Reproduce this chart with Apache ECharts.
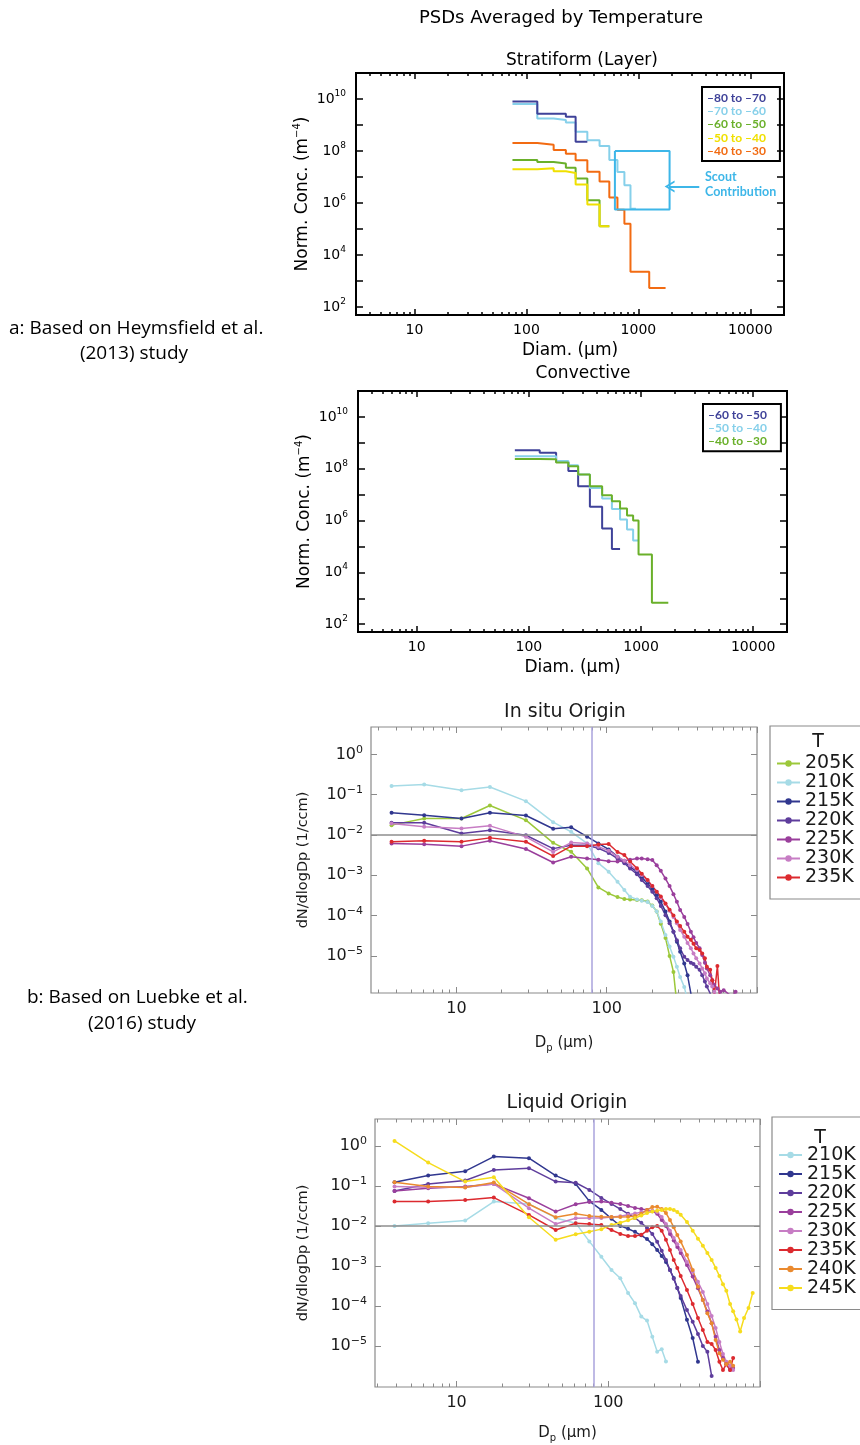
<!DOCTYPE html>
<html><head><meta charset="utf-8">
<script src="https://cdn.jsdelivr.net/npm/echarts@6/dist/echarts.min.js"></script>
<style>html,body{margin:0;padding:0;background:#fff}#c{width:860px;height:1445px}</style>
</head><body><div id="c"></div>
<script>
// ================= DATA =================
// a) Heymsfield et al. (2013) — Stratiform (Layer): bin edges (µm) and normalized concentration (m^-4)
const strat8070Edges = [75, 125, 175, 225, 275, 350];
const strat8070Conc  = [8.1e9, 2.7e9, 2.7e9, 2.1e9, 2.3e8];
const strat7060Edges = [75, 125, 175, 225, 275, 350, 450, 550, 650, 750, 850, 950];
const strat7060Conc  = [6.4e9, 1.8e9, 1.55e9, 1.26e9, 5.5e8, 2.6e8, 1.58e8, 4.5e7, 1.56e7, 4.8e6, 6.0e5];
const strat6050Edges = [75, 125, 175, 225, 275, 350, 450, 550];
const strat6050Conc  = [4.55e7, 3.8e7, 3.3e7, 2.3e7, 8.9e6, 1.3e6, 1.3e5];
const strat5040Edges = [75, 125, 175, 225, 275, 350, 450, 550];
const strat5040Conc  = [1.98e7, 2.17e7, 1.66e7, 1.43e7, 5.2e6, 8.8e5, 1.3e5];
const strat4030Edges = [75, 125, 175, 225, 275, 350, 450, 550, 650, 750, 850, 1250, 1750];
const strat4030Conc  = [2.06e8, 1.73e8, 1.1e8, 7.8e7, 4.4e7, 1.6e7, 6.8e6, 1.65e6, 5.5e5, 1.6e5, 2.3e3, 5.5e2];
const stratNames = ['–80 to –70', '–70 to –60', '–60 to –50', '–50 to –40', '–40 to –30'];
// Scout contribution box and arrow (diameter µm, concentration m^-4)
const scoutBoxDiam = [617, 1900];
const scoutBoxConc = [5.7e5, 1.0e8];
const scoutArrowDiam = [3500, 1900];
const scoutArrowConc = 4.3e6;

// a) Convective
const conv6050Edges = [75, 125, 175, 225, 275, 350, 450, 550, 650];
const conv6050Conc  = [5.2e8, 4.1e8, 1.8e8, 8.2e7, 2.1e7, 3.4e6, 4.9e5, 8.0e4];
const conv5040Edges = [75, 125, 175, 225, 275, 350, 450, 550, 650, 750, 850, 950];
const conv5040Conc  = [3.0e8, 3.0e8, 2.0e8, 1.36e8, 6.0e7, 1.8e7, 7.1e6, 2.8e6, 1.1e6, 4.5e5, 1.7e5];
const conv4030Edges = [75, 125, 175, 225, 275, 350, 450, 550, 650, 750, 850, 950, 1250, 1750];
const conv4030Conc  = [2.4e8, 2.3e8, 1.75e8, 1.26e8, 6.0e7, 2.1e7, 9.5e6, 5.6e6, 2.9e6, 1.55e6, 1.0e6, 4.9e4, 6.8e2];
const convNames = ['–60 to –50', '–50 to –40', '–40 to –30'];

// b) Luebke et al. (2016) — In situ origin: Dp (µm) and dN/dlogDp (1/ccm)
const insituDp = [3.7, 6.1, 10.8, 16.7, 29, 44, 58, 74, 88, 103, 118, 131, 143, 159, 171, 187, 201, 215, 229, 246, 262, 278, 293, 308, 328, 345, 363, 378, 394, 415, 432, 450, 464, 488, 504, 520, 545, 570, 600, 640, 680, 720, 780];
const insitu205 = [1.76e-2, 2.58e-2, 2.58e-2, 5.4e-2, 2.34e-2, 6.4e-3, 3.85e-3, 1.48e-3, 5.0e-4, 3.55e-4, 2.88e-4, 2.57e-4, 2.51e-4, 2.45e-4, 2.4e-4, 2.24e-4, 1.78e-4, 1.26e-4, 6.3e-5, 2.8e-5, 1.0e-5, 4.0e-6, 6.3e-7];
const insitu210 = [0.164, 0.18, 0.13, 0.155, 0.0693, 0.0209, 0.012, 6.2e-3, 2.0e-3, 1.23e-3, 6.9e-4, 4.3e-4, 2.95e-4, 2.51e-4, 2.34e-4, 2.19e-4, 1.74e-4, 1.26e-4, 7.1e-5, 3.3e-5, 1.7e-5, 9.5e-6, 5.4e-6, 3.0e-6, 1.7e-6, 7.9e-7];
const insitu215 = [0.0356, 0.0311, 0.0258, 0.0356, 0.0305, 0.0143, 0.0155, 9.1e-3, 6.2e-3, 4.4e-3, 2.9e-3, 2.2e-3, 1.62e-3, 1.23e-3, 8.9e-4, 6.3e-4, 4.7e-4, 3.2e-4, 2.2e-4, 1.26e-4, 7.1e-5, 4.0e-5, 2.24e-5, 1.26e-5, 6.5e-6, 3.3e-6, 1.17e-6, 5e-7];
const insitu220 = [0.0201, 0.0201, 0.0109, 0.0132, 9.9e-3, 4.6e-3, 5.6e-3, 5.6e-3, 4.7e-3, 3.6e-3, 2.6e-3, 2.0e-3, 1.48e-3, 1.07e-3, 7.6e-4, 5.4e-4, 3.9e-4, 2.7e-4, 1.74e-4, 1.02e-4, 6.5e-5, 4.0e-5, 2.45e-5, 1.55e-5, 9.5e-6, 7.9e-6, 6.8e-6, 6.3e-6, 5.4e-6, 4.5e-6, 3.3e-6, 2.3e-6, 1.74e-6, 1.17e-6, 5e-7];
const insitu225 = [6.2e-3, 5.9e-3, 5.3e-3, 7.2e-3, 4.5e-3, 2.08e-3, 2.9e-3, 2.6e-3, 2.45e-3, 2.24e-3, 2.19e-3, 2.29e-3, 2.45e-3, 2.6e-3, 2.6e-3, 2.5e-3, 2.4e-3, 1.78e-3, 1.29e-3, 8.3e-4, 5.4e-4, 3.4e-4, 2.2e-4, 1.38e-4, 9.3e-5, 6.2e-5, 4.0e-5, 2.9e-5, 2.1e-5, 1.55e-5, 1.05e-5, 6.8e-6, 4.9e-6, 3.3e-6, 2.5e-6, 1.9e-6, 1.55e-6, 1.29e-6, 1.41e-6, 1.17e-6, 1.0e-6, 1.29e-6];
const insitu230 = [0.0193, 0.016, 0.0145, 0.0169, 9.0e-3, 3.8e-3, 6.5e-3, 6.2e-3, 5.1e-3, 4.1e-3, 2.9e-3, 2.3e-3, 1.78e-3, 1.35e-3, 1.02e-3, 7.4e-4, 5.4e-4, 3.9e-4, 2.8e-4, 1.95e-4, 1.32e-4, 9.3e-5, 6.5e-5, 4.4e-5, 3.0e-5, 2.1e-5, 1.55e-5, 1.15e-5, 8.7e-6, 6.5e-6, 4.9e-6, 3.7e-6, 2.75e-6, 2.1e-6, 1.74e-6, 1.29e-6, 7.9e-7];
const insitu235 = [6.8e-3, 7.2e-3, 6.8e-3, 8.5e-3, 6.8e-3, 3.0e-3, 5.3e-3, 5.3e-3, 5.8e-3, 6.0e-3, 3.8e-3, 3.2e-3, 2.2e-3, 1.5e-3, 1.1e-3, 7.6e-4, 5.4e-4, 3.9e-4, 3.0e-4, 2.0e-4, 1.4e-4, 1.0e-4, 7.1e-5, 5.5e-5, 4.0e-5, 3.0e-5, 2.5e-5, 2.0e-5, 1.55e-5, 1.4e-5, 1.15e-5, 8.7e-6, 5.4e-6, 4.5e-6, 2.5e-6, 1.1e-6, 5.6e-6, 5e-7];
const insituNames = ['205K', '210K', '215K', '220K', '225K', '230K', '235K'];

// b) Liquid origin
const liquidDp = [3.9, 6.5, 11.4, 17.6, 30, 45, 61, 75, 90, 105, 120, 135, 150, 165, 180, 195, 210, 225, 240, 255, 270, 285, 300, 330, 360, 390, 420, 450, 480, 510, 540, 570, 600, 635, 665, 700, 740, 785, 840, 895];
const liquid210 = [0.0100, 0.0117, 0.0136, 0.0406, 0.0355, 0.0158, 0.0117, 4.1e-3, 1.7e-3, 7.9e-4, 4.9e-4, 2.1e-4, 1.17e-4, 5.4e-5, 4.3e-5, 1.7e-5, 7.2e-6, 8.3e-6, 4.1e-6];
const liquid215 = [0.124, 0.181, 0.233, 0.541, 0.492, 0.181, 0.112, 0.0417, 0.0251, 0.0151, 0.0100, 8.5e-3, 7.1e-3, 5.8e-3, 4.7e-3, 3.5e-3, 2.5e-3, 1.78e-3, 1.26e-3, 7.9e-4, 5.0e-4, 2.8e-4, 1.58e-4, 4.5e-5, 1.58e-5, 4.0e-6];
const liquid220 = [0.075, 0.112, 0.136, 0.251, 0.277, 0.128, 0.120, 0.0794, 0.0501, 0.0355, 0.0263, 0.0200, 0.0158, 0.0120, 8.9e-3, 6.3e-3, 4.0e-3, 2.4e-3, 1.41e-3, 7.9e-4, 4.8e-4, 2.8e-4, 1.78e-4, 7.9e-5, 4.0e-5, 2.0e-5, 1.0e-5, 7.1e-6, 1.78e-6];
const liquid225 = [0.075, 0.0875, 0.0962, 0.112, 0.0492, 0.0228, 0.0348, 0.0398, 0.0407, 0.038, 0.0355, 0.0316, 0.0282, 0.0263, 0.0251, 0.0234, 0.0200, 0.0141, 0.0100, 6.3e-3, 4.3e-3, 2.95e-3, 2.1e-3, 1.05e-3, 5.4e-4, 2.75e-4, 1.41e-4, 7.2e-5, 3.7e-5, 1.7e-5, 7.9e-6, 5.0e-6, 3.5e-6, 2.5e-6, 2.8e-6];
const liquid230 = [0.0962, 0.0927, 0.0927, 0.112, 0.0277, 0.0112, 0.0156, 0.0158, 0.0158, 0.0166, 0.0174, 0.0191, 0.0204, 0.0219, 0.0234, 0.024, 0.0219, 0.0166, 0.0112, 7.6e-3, 5.0e-3, 3.5e-3, 2.5e-3, 1.26e-3, 7.1e-4, 4.0e-4, 2.24e-4, 1.12e-4, 5.6e-5, 2.8e-5, 1.26e-5, 6.3e-6, 4.0e-6, 3.2e-6, 2.5e-6];
const liquid235 = [0.0406, 0.0406, 0.0447, 0.051, 0.0188, 7.9e-3, 0.0117, 0.0112, 0.0105, 7.9e-3, 6.3e-3, 5.6e-3, 5.6e-3, 6.0e-3, 7.6e-3, 9.3e-3, 0.0100, 7.6e-3, 4.5e-3, 2.5e-3, 1.41e-3, 8.9e-4, 5.6e-4, 2.5e-4, 1.12e-4, 5.0e-5, 2.5e-5, 1.26e-5, 1.12e-5, 7.9e-6, 4.0e-6, 2.5e-6, 3.5e-6, 2.5e-6, 5.0e-6];
const liquid240 = [0.124, 0.0962, 0.0908, 0.121, 0.0348, 0.0165, 0.02, 0.0178, 0.017, 0.0166, 0.0166, 0.017, 0.0178, 0.02, 0.0251, 0.0295, 0.0302, 0.0263, 0.0209, 0.0141, 9.3e-3, 5.9e-3, 4.1e-3, 1.86e-3, 7.9e-4, 3.0e-4, 1.41e-4, 6.6e-5, 3.7e-5, 1.41e-5, 6.6e-6, 4.5e-6, 3.5e-6, 4.0e-6, 3.2e-6];
const liquid245 = [1.33, 0.383, 0.128, 0.165, 0.0165, 4.5e-3, 6.2e-3, 7.1e-3, 8.3e-3, 0.0105, 0.012, 0.0138, 0.0158, 0.0182, 0.0209, 0.0229, 0.024, 0.0251, 0.0263, 0.0263, 0.0251, 0.0224, 0.0191, 0.0126, 7.6e-3, 4.8e-3, 3.2e-3, 2.1e-3, 1.41e-3, 8.9e-4, 5.6e-4, 3.5e-4, 2.4e-4, 1.12e-4, 7.4e-5, 4.6e-5, 2.3e-5, 5.0e-5, 8.9e-5, 2.1e-4];
const liquidNames = ['210K', '215K', '220K', '225K', '230K', '235K', '240K', '245K'];

// reference lines in panel b
const refConc = 0.01;
const refDiam = 80;

// tick values
const idlMajorX = [10, 100, 1000, 10000];
const idlDecadesY = [1e2, 1e3, 1e4, 1e5, 1e6, 1e7, 1e8, 1e9, 1e10];
const idlLabelsY = [1e2, 1e4, 1e6, 1e8, 1e10];
const mmMajorX = [10, 100, 1000];
const mmLabelsX = [10, 100];
const mmDecadesY = [1, 1e-1, 1e-2, 1e-3, 1e-4, 1e-5];

// ================= STYLE =================
const IDL = 'DejaVu Sans';
const MM = 'DejaVu Sans';
const C = {
  dblue: '#3f4299', lblue: '#86d0ea', green: '#6ab02a', yellow: '#f0e000', orange: '#f26b12', scout: '#3db6e8',
  k205: '#9cc83a', k210: '#a6dbe6', k215: '#30378f', k220: '#5e3d9c', k225: '#9a3f9c', k230: '#c77dc4',
  k235: '#dc2a2f', k240: '#ea8a2f', k245: '#f6dc1d'
};

function minorsBetween(lo, hi) {
  const out = [];
  for (let d = 1; d <= 1e5; d *= 10) for (let m = 2; m <= 9; m++) { const v = m * d; if (v > lo && v < hi) out.push(v); }
  return out;
}
function expLabel(v) {
  const e = Math.round(Math.log10(v));
  return '{b|10}{s|' + (e < 0 ? '−' + (-e) : String(e)) + '}';
}
function stepData(edges, conc) {
  const d = conc.map((v, i) => [edges[i], v]);
  d.push([edges[conc.length], conc[conc.length - 1]]);
  return d;
}
function pairs(xs, ys) {
  const d = [];
  ys.forEach((y, i) => { if (y != null) d.push([xs[i], y]); });
  return d;
}

function makeXAxes(grid, min, max, majors, minors, labels, name, nameGap, s) {
  const common = { type: 'log', logBase: 10, gridIndex: grid, min, max, axisLine: { show: false },
    splitLine: { show: false }, minorTick: { show: false }, minorSplitLine: { show: false }, silent: true };
  const tick = (vals, len) => ({ show: true, inside: true, length: len, customValues: vals,
    lineStyle: { color: s.tickColor, width: s.tickWidth } });
  return [
    Object.assign({}, common, { position: 'bottom', axisTick: tick(majors, s.major),
      axisLabel: { show: true, customValues: labels, margin: s.xLabelMargin, fontFamily: s.font,
        fontSize: s.labelSize, color: s.textColor, formatter: v => String(Math.round(v)) },
      name, nameLocation: 'middle', nameGap, nameTextStyle: s.xName }),
    Object.assign({}, common, { position: 'bottom', axisTick: tick(minors, s.minor), axisLabel: { show: false } }),
    Object.assign({}, common, { position: 'top', axisTick: tick(majors, s.major), axisLabel: { show: false } }),
    Object.assign({}, common, { position: 'top', axisTick: tick(minors, s.minor), axisLabel: { show: false } })
  ];
}
function makeYAxes(grid, min, max, ticks, labels, name, nameGap, s) {
  const common = { type: 'log', logBase: 10, gridIndex: grid, min, max, axisLine: { show: false },
    splitLine: { show: false }, minorTick: { show: false }, minorSplitLine: { show: false }, silent: true };
  const tick = { show: true, inside: true, length: s.yTick, customValues: ticks,
    lineStyle: { color: s.tickColor, width: s.tickWidth } };
  return [
    Object.assign({}, common, { position: 'left', axisTick: tick,
      axisLabel: { show: true, customValues: labels, margin: s.yLabelMargin, formatter: expLabel,
        rich: { b: { fontFamily: s.font, fontSize: s.labelSize, color: s.textColor, lineHeight: 20, verticalAlign: 'middle' },
                s: { fontFamily: s.font, fontSize: s.supSize, color: s.textColor, lineHeight: 11, verticalAlign: 'top' } } },
      name, nameLocation: 'middle', nameGap, nameTextStyle: s.yName }),
    Object.assign({}, common, { position: 'right', axisTick: tick, axisLabel: { show: false } })
  ];
}

const sIDL = { font: IDL, tickColor: '#000', tickWidth: 1.5, major: 6, minor: 3, yTick: 7,
  labelSize: 14, supSize: 9, xLabelMargin: 8, yLabelMargin: 10, textColor: '#000',
  xName: { fontFamily: IDL, fontSize: 17, color: '#000' },
  yName: { fontFamily: IDL, fontSize: 17, color: '#000', lineHeight: 20,
    rich: { s: { fontFamily: IDL, fontSize: 10, lineHeight: 10, verticalAlign: 'top', color: '#000' } } } };
const sMM = { font: MM, tickColor: '#8a8a8a', tickWidth: 1, major: 6, minor: 3.5, yTick: 6,
  labelSize: 16, supSize: 11, xLabelMargin: 8, yLabelMargin: 8, textColor: '#1a1a1a',
  xName: { fontFamily: MM, fontSize: 15, color: '#1a1a1a', lineHeight: 20,
    rich: { sub: { fontFamily: MM, fontSize: 10, lineHeight: 10, verticalAlign: 'bottom', color: '#1a1a1a' } } },
  yName: { fontFamily: MM, fontSize: 14.5, color: '#1a1a1a' } };

const xAxis = [].concat(
  makeXAxes(0, 3, 20000, idlMajorX, minorsBetween(3, 20000), idlMajorX, 'Diam. (μm)', 27, sIDL),
  makeXAxes(1, 3, 20000, idlMajorX, minorsBetween(3, 20000), idlMajorX, 'Diam. (μm)', 27, sIDL),
  makeXAxes(2, 2.7, 1000, mmMajorX, minorsBetween(2.7, 1000), mmLabelsX, 'D{sub|p} (μm)', 40, sMM),
  makeXAxes(3, 2.9, 1000, mmMajorX, minorsBetween(2.9, 1000), mmLabelsX, 'D{sub|p} (μm)', 36, sMM)
);
const yAxis = [].concat(
  makeYAxes(0, 50, 1e11, idlDecadesY, idlLabelsY, 'Norm. Conc. (m{s|−4})', 31, sIDL),
  makeYAxes(1, 50, 1e11, idlDecadesY, idlLabelsY, 'Norm. Conc. (m{s|−4})', 33, sIDL),
  makeYAxes(2, 1.2e-6, 4.8, mmDecadesY, mmDecadesY, 'dN/dlogDp (1/ccm)', 60, sMM),
  makeYAxes(3, 9.4e-7, 4.7, mmDecadesY, mmDecadesY, 'dN/dlogDp (1/ccm)', 64, sMM)
);

function stepSeries(p, name, edges, conc, color) {
  return { type: 'line', name, xAxisIndex: 4 * p, yAxisIndex: 2 * p, data: stepData(edges, conc), step: 'end',
    symbol: 'none', showSymbol: false, lineStyle: { color, width: 2 }, itemStyle: { color }, z: 3, silent: true };
}
function ptSeries(p, name, xs, ys, color) {
  return { type: 'line', name, xAxisIndex: 4 * p, yAxisIndex: 2 * p, data: pairs(xs, ys),
    symbol: 'circle', symbolSize: 4, showSymbol: true, lineStyle: { color, width: 1.5 }, itemStyle: { color },
    z: 3, silent: true };
}
function refSeries(p) {
  return { type: 'line', name: '_ref' + p, xAxisIndex: 4 * p, yAxisIndex: 2 * p, data: [], z: 2, silent: true,
    markLine: { silent: true, symbol: 'none', label: { show: false }, animation: false,
      data: [ { yAxis: refConc, lineStyle: { color: '#8e8e8e', width: 1.5, type: 'solid' } },
              { xAxis: refDiam, lineStyle: { color: '#aaa3dd', width: 1.5, type: 'solid' } } ] } };
}

const chevron = 'path://M6,0 L12,10 L10,10 L6,3.3 L2,10 L0,10 Z';

const series = [
  stepSeries(0, stratNames[1], strat7060Edges, strat7060Conc, C.lblue),
  stepSeries(0, stratNames[0], strat8070Edges, strat8070Conc, C.dblue),
  stepSeries(0, stratNames[4], strat4030Edges, strat4030Conc, C.orange),
  stepSeries(0, stratNames[2], strat6050Edges, strat6050Conc, C.green),
  stepSeries(0, stratNames[3], strat5040Edges, strat5040Conc, C.yellow),
  { type: 'line', name: '_scout', xAxisIndex: 0, yAxisIndex: 0, silent: true, z: 4, symbol: 'none', showSymbol: false,
    data: [[scoutBoxDiam[0], scoutBoxConc[1]], [scoutBoxDiam[1], scoutBoxConc[1]], [scoutBoxDiam[1], scoutBoxConc[0]],
           [scoutBoxDiam[0], scoutBoxConc[0]], [scoutBoxDiam[0], scoutBoxConc[1]]],
    lineStyle: { color: C.scout, width: 2 }, itemStyle: { color: C.scout },
    markLine: { silent: true, animation: false, label: { show: false }, symbol: ['none', chevron], symbolSize: [12, 10],
      lineStyle: { color: C.scout, width: 2, type: 'solid' },
      data: [[ { coord: [scoutArrowDiam[0], scoutArrowConc] }, { coord: [scoutArrowDiam[1], scoutArrowConc] } ]] } },

  stepSeries(1, convNames[0], conv6050Edges, conv6050Conc, C.dblue),
  stepSeries(1, convNames[1], conv5040Edges, conv5040Conc, C.lblue),
  stepSeries(1, convNames[2], conv4030Edges, conv4030Conc, C.green),

  refSeries(2),
  ptSeries(2, '205K', insituDp, insitu205, C.k205),
  ptSeries(2, '210K', insituDp, insitu210, C.k210),
  ptSeries(2, '215K', insituDp, insitu215, C.k215),
  ptSeries(2, '220K', insituDp, insitu220, C.k220),
  ptSeries(2, '225K', insituDp, insitu225, C.k225),
  ptSeries(2, '230K', insituDp, insitu230, C.k230),
  ptSeries(2, '235K', insituDp, insitu235, C.k235),

  refSeries(3),
  ptSeries(3, '210K', liquidDp, liquid210, C.k210),
  ptSeries(3, '215K', liquidDp, liquid215, C.k215),
  ptSeries(3, '220K', liquidDp, liquid220, C.k220),
  ptSeries(3, '225K', liquidDp, liquid225, C.k225),
  ptSeries(3, '230K', liquidDp, liquid230, C.k230),
  ptSeries(3, '235K', liquidDp, liquid235, C.k235),
  ptSeries(3, '240K', liquidDp, liquid240, C.k240),
  ptSeries(3, '245K', liquidDp, liquid245, C.k245)
];

const stratColors = [C.dblue, C.lblue, C.green, C.yellow, C.orange];
const convColors = [C.dblue, C.lblue, C.green];
const idlLegendBase = { orient: 'vertical', icon: 'none', itemWidth: 0, itemHeight: 10, itemGap: 0,
  borderColor: '#000', borderWidth: 2, selectedMode: false, padding: [4, 14, 3, 0],
  textStyle: { fontFamily: 'Lato', fontWeight: 'bold', fontSize: 12, lineHeight: 13.4 } };
const mmLegendBase = { orient: 'vertical', itemWidth: 23, itemHeight: 8, itemGap: 0, selectedMode: false,
  borderColor: '#8a8a8a', borderWidth: 1.2, textStyle: { fontFamily: MM, fontSize: 19, lineHeight: 19, color: '#1a1a1a' } };

const legend = [
  Object.assign({}, idlLegendBase, { left: 702, top: 87,
    data: stratNames.map((n, i) => ({ name: n, textStyle: { color: stratColors[i] } })) }),
  Object.assign({}, idlLegendBase, { left: 703, top: 404,
    data: convNames.map((n, i) => ({ name: n, textStyle: { color: convColors[i] } })) }),
  Object.assign({}, mmLegendBase, { left: 770, top: 726, padding: [28, 40, 12, 6], data: insituNames }),
  Object.assign({}, mmLegendBase, { left: 772, top: 1117, padding: [28.5, 40, 12, 6], data: liquidNames })
];

function txt(text, x, y, font, opts) {
  return Object.assign({ type: 'text', x, y, silent: true,
    style: Object.assign({ text, font, fill: '#000', textAlign: 'center', textVerticalAlign: 'middle' }, opts || {}) });
}

const graphic = { elements: [
  txt('PSDs Averaged by Temperature', 561, 18, '18px "DejaVu Sans"'),
  txt('Stratiform (Layer)', 582, 61, '17px "DejaVu Sans"'),
  txt('Convective', 583, 374, '17px "DejaVu Sans"'),
  txt('In situ Origin', 565, 712, '19px "DejaVu Sans"', { fill: '#1a1a1a' }),
  txt('Liquid Origin', 567, 1103, '19px "DejaVu Sans"', { fill: '#1a1a1a' }),
  txt('Scout', 705, 177, 'bold 12.5px Lato', { fill: C.scout, textAlign: 'left' }),
  txt('Contribution', 705, 192, 'bold 12.5px Lato', { fill: C.scout, textAlign: 'left' }),
  txt('T', 818, 742, '19px "DejaVu Sans"', { fill: '#1a1a1a' }),
  txt('T', 820, 1138, '19px "DejaVu Sans"', { fill: '#1a1a1a' }),
  txt('a: Based on Heymsfield et al.', 9, 329, '19px "Open Sans"', { textAlign: 'left' }),
  txt('(2013) study', 134, 354, '19px "Open Sans"'),
  txt('b: Based on Luebke et al.', 27, 998, '19px "Open Sans"', { textAlign: 'left' }),
  txt('(2016) study', 142, 1024, '19px "Open Sans"')
] };

const option = {
  backgroundColor: '#fff',
  animation: false,
  grid: [
    { left: 356, top: 73, width: 428, height: 242, show: true, borderColor: '#000', borderWidth: 2, backgroundColor: 'rgba(0,0,0,0)' },
    { left: 358, top: 391, width: 429, height: 241, show: true, borderColor: '#000', borderWidth: 2, backgroundColor: 'rgba(0,0,0,0)' },
    { left: 371, top: 727, width: 386, height: 266, show: true, borderColor: '#8a8a8a', borderWidth: 1.2, backgroundColor: 'rgba(0,0,0,0)' },
    { left: 375, top: 1119, width: 385, height: 268, show: true, borderColor: '#8a8a8a', borderWidth: 1.2, backgroundColor: 'rgba(0,0,0,0)' }
  ],
  xAxis, yAxis, series, legend, graphic
};

const chart = echarts.init(document.getElementById('c'), null, { renderer: 'canvas', width: 860, height: 1445 });
chart.setOption(option);
</script></body></html>
